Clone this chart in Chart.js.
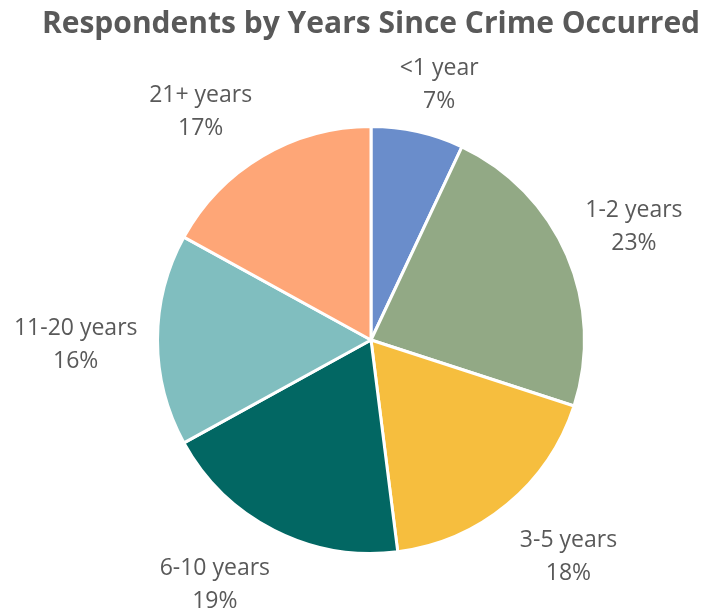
<!DOCTYPE html>
<html>
<head>
<meta charset="utf-8">
<script src="https://cdn.jsdelivr.net/npm/chart.js@4"></script>
<style>
  html, body { margin: 0; padding: 0; background: #fff; }
  #wrap { width: 701px; height: 612px; }
</style>
</head>
<body>
<div id="wrap"><canvas id="myChart" width="701" height="612"></canvas></div>
<script>
const categorias = ['<1 year', '1-2 years', '3-5 years', '6-10 years', '11-20 years', '21+ years'];
const porcentajes = [7, 23, 18, 19, 16, 17];
const colores = ['#6A8DCB', '#92A985', '#F6BE3E', '#026763', '#80BEBF', '#FEA677'];

// etiquetas fuera de cada porción: nombre arriba, porcentaje abajo
const etiquetasExternas = {
  id: 'etiquetasExternas',
  afterDatasetsDraw(chart) {
    const ctx = chart.ctx;
    const meta = chart.getDatasetMeta(0);
    const limitar = v => Math.max(-1, Math.min(1, v));
    ctx.save();
    ctx.font = '23px "Open Sans"';
    ctx.fillStyle = '#595959';
    ctx.textAlign = 'center';
    ctx.textBaseline = 'middle';
    meta.data.forEach((arco, i) => {
      const medio = (arco.startAngle + arco.endAngle) / 2;
      const dx = Math.cos(medio), dy = Math.sin(medio);
      const r = arco.outerRadius + 20;
      const texto = categorias[i];
      const valor = porcentajes[i] + '%';
      const anchoMedio = Math.max(ctx.measureText(texto).width, ctx.measureText(valor).width) / 2;
      const altoMedio = 32;
      // la esquina más cercana de la caja queda sobre el radio del punto medio
      const x = arco.x + dx * r + limitar(dx * 2) * anchoMedio;
      const y = arco.y + dy * r + limitar(dy * 2) * altoMedio + 5;
      ctx.fillText(texto, x, y - 16.5);
      ctx.fillText(valor, x, y + 16.5);
    });
    ctx.restore();
  }
};

const ctx = document.getElementById('myChart').getContext('2d');
const myChart = new Chart(ctx, {
  type: 'pie',
  data: {
    labels: categorias,
    datasets: [{
      data: porcentajes,
      backgroundColor: colores,
      borderColor: '#ffffff',
      borderWidth: 3
    }]
  },
  options: {
    responsive: false,
    animation: false,
    layout: {
      padding: { left: 41, right: 0, top: 0, bottom: 57 }
    },
    plugins: {
      legend: { display: false },
      tooltip: { enabled: false },
      title: {
        display: true,
        text: 'Respondents by Years Since Crime Occurred',
        color: '#595959',
        font: { family: '"Open Sans"', size: 30, weight: 'bold' },
        padding: { top: 6, bottom: 83 }
      }
    }
  },
  plugins: [etiquetasExternas]
});
</script>
</body>
</html>
